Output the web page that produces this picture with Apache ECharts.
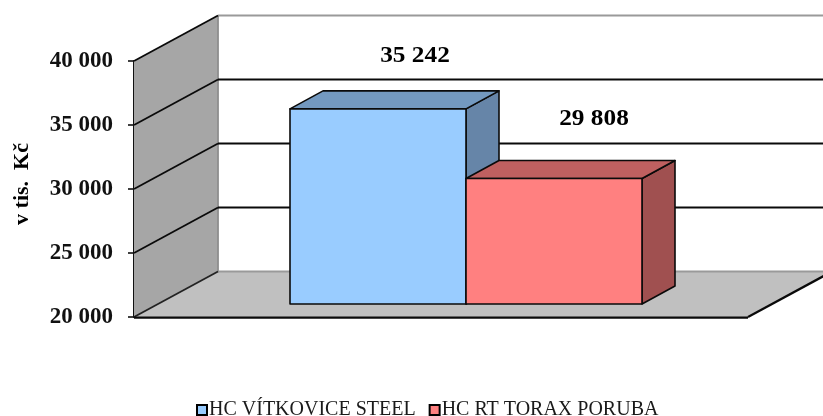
<!DOCTYPE html>
<html><head><meta charset="utf-8">
<style>html,body{margin:0;padding:0;background:#fff}#c{width:823px;height:416px}</style>
<script src="https://cdn.jsdelivr.net/npm/echarts@6/dist/echarts.min.js"></script>
</head><body><div id="c"></div>
<script>
var categories = [''];
var teamNames = ['HC VÍTKOVICE STEEL', 'HC RT TORAX PORUBA'];
var vitkovice = [35242];
var poruba = [29808];
var yTicks = [20000, 25000, 30000, 35000, 40000];
var axisTitle = 'v tis.  Kč';

var BACK = [84, -45.5];      // depth of the 3D box, px
var BAR_SHIFT = [25, -13];   // where bars stand on the floor
var BAR_DEPTH = [33, -18];
var BAR_FRAC = 176 / 614;
var EDGE = '#0a0a0a';

function fmt(v) { return String(v).replace(/\B(?=(\d{3})+$)/g, ' '); }
function line(p1, p2, color, w) {
  return { type: 'line', silent: true,
    shape: { x1: p1[0], y1: p1[1], x2: p2[0], y2: p2[1] },
    style: { stroke: color, lineWidth: w } };
}
function poly(pts, fill, stroke, w) {
  return { type: 'polygon', silent: true, shape: { points: pts },
    style: { fill: fill, stroke: stroke, lineWidth: w, lineJoin: 'round' } };
}
function add(p, d) { return [p[0] + d[0], p[1] + d[1]]; }

function renderBox(params, api) {
  var band = api.size([1, 0])[0];
  var yMin = yTicks[0], yMax = yTicks[yTicks.length - 1];
  var c = api.coord([0, yMin]);
  var fl = [c[0] - band / 2, c[1]];
  var fr = [c[0] + band / 2, c[1]];
  var tl = [fl[0], api.coord([0, yMax])[1]];
  var bl = add(fl, BACK), br = add(fr, BACK), btl = add(tl, BACK);
  var btr = [br[0], btl[1]];
  var kids = [
    poly([bl, br, btr, btl], '#ffffff', 'none', 0),
    poly([fl, bl, btl, tl], '#a6a6a6', 'none', 0),
    poly([fl, fr, br, bl], '#c0c0c0', 'none', 0),
    line(btl, btr, '#9a9a9a', 1.8),
    line(bl, br, '#9a9a9a', 1.8),
    line(bl, btl, '#8e8e8e', 1.8)
  ];
  yTicks.forEach(function (t, i) {
    var f = [fl[0], api.coord([0, t])[1]];
    var b = add(f, BACK);
    kids.push(line(f, b, i === 0 ? '#222' : EDGE, 1.8));
    if (i > 0 && i < yTicks.length - 1) kids.push(line(b, [br[0], b[1]], EDGE, 1.8));
  });
  kids.push(line([fl[0], fl[1] + 0.7], [fr[0], fr[1] + 0.7], EDGE, 2.2));
  kids.push(line(fr, br, EDGE, 2.2));
  return { type: 'group', children: kids };
}

function barRenderer(slot, front, top, side, labelShift) {
  return function (params, api) {
    var band = api.size([1, 0])[0];
    var w = band * BAR_FRAC;
    var v = api.value(1);
    var base = api.coord([api.value(0), yTicks[0]]);
    var head = api.coord([api.value(0), v]);
    var x0 = base[0] + slot * w;
    var a = add([x0, base[1]], BAR_SHIFT);
    var b = add([x0 + w, base[1]], BAR_SHIFT);
    var d = add([x0 + w, head[1]], BAR_SHIFT);
    var e = add([x0, head[1]], BAR_SHIFT);
    var b2 = add(b, BAR_DEPTH), d2 = add(d, BAR_DEPTH), e2 = add(e, BAR_DEPTH);
    return { type: 'group', children: [
      poly([b, b2, d2, d], side, EDGE, 1.6),
      poly([e, d, d2, e2], top, EDGE, 1.6),
      poly([a, b, d, e], front, EDGE, 1.6),
      { type: 'text', silent: true,
        x: (e[0] + d[0]) / 2 + labelShift[0], y: e[1] + labelShift[1],
        scaleX: 1.1, scaleY: 1,
        style: { text: fmt(v), fill: '#000', align: 'center', verticalAlign: 'middle',
          font: 'bold 23px "Liberation Serif"' } }
    ] };
  };
}

var chart = echarts.init(document.getElementById('c'), null, { renderer: 'canvas' });
chart.setOption({
  animation: false,
  backgroundColor: '#ffffff',
  grid: { left: 134, right: 75, top: 61, bottom: 99, containLabel: false },
  legend: {
    data: teamNames, top: 400, left: 196, itemWidth: 10, itemHeight: 10, itemGap: 13,
    padding: 0, icon: 'rect', selectedMode: false,
    textStyle: { fontFamily: 'Liberation Serif', fontSize: 20, color: '#1a1a1a', padding: [0, 0, 0, -3] }
  },
  xAxis: { type: 'category', data: categories, show: false },
  yAxis: {
    type: 'value', min: yTicks[0], max: yTicks[yTicks.length - 1], interval: 5000,
    name: axisTitle, nameLocation: 'middle', nameGap: 101, nameRotate: 90,
    nameTextStyle: { fontFamily: 'Liberation Serif', fontWeight: 'bold', fontSize: 22, color: '#000', padding: [0, 0, 0, 10] },
    axisLine: { show: true, lineStyle: { color: '#111', width: 2 } },
    axisTick: { show: true, length: 6, lineStyle: { color: '#111', width: 1.6 } },
    axisLabel: { margin: 21, fontFamily: 'Liberation Serif', fontWeight: 'bold', fontSize: 23, color: '#111',
      formatter: function (v) { return fmt(v); } },
    splitLine: { show: false }
  },
  series: [
    { type: 'custom', name: 'box', silent: true, z: 1, clip: false, renderItem: renderBox, data: [[0]],
      encode: { x: 0 } },
    { type: 'custom', name: teamNames[0], silent: true, z: 2, clip: false,
      itemStyle: { color: '#99ccff', borderColor: '#000', borderWidth: 1.5 },
      renderItem: barRenderer(-1, '#99ccff', '#7399c0', '#6685a8', [37, -53]),
      data: vitkovice.map(function (v, i) { return [i, v]; }), encode: { x: 0, y: 1 } },
    { type: 'custom', name: teamNames[1], silent: true, z: 3, clip: false,
      itemStyle: { color: '#ff8080', borderColor: '#000', borderWidth: 1.5 },
      renderItem: barRenderer(0, '#ff8080', '#bf6060', '#a05050', [40, -59]),
      data: poruba.map(function (v, i) { return [i, v]; }), encode: { x: 0, y: 1 } }
  ]
});
</script></body></html>
